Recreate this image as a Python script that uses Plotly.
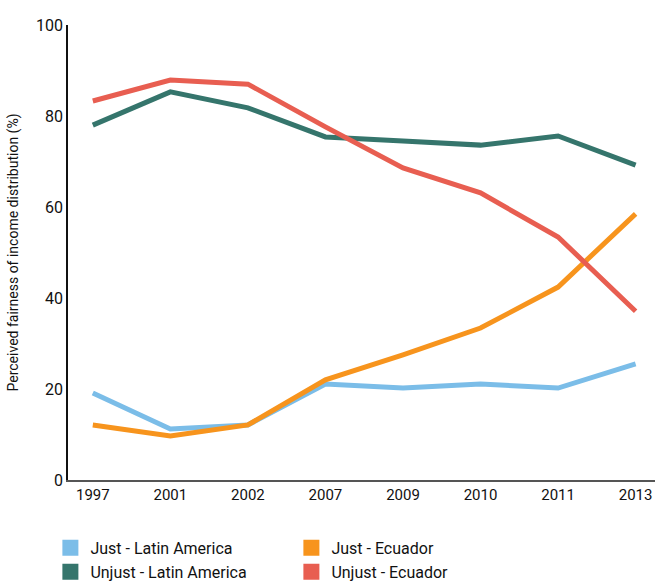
import plotly.graph_objects as go

years = ['1997', '2001', '2002', '2007', '2009', '2010', '2011', '2013']

just_latam = [19.1, 11.2, 12.1, 21.1, 20.2, 21.1, 20.2, 25.5]
just_ecuador = [12.1, 9.7, 12.1, 22.0, 27.5, 33.4, 42.4, 58.5]
unjust_latam = [78.0, 85.3, 81.8, 75.4, 74.5, 73.6, 75.6, 69.2]
unjust_ecuador = [83.3, 87.9, 87.0, 77.6, 68.6, 63.1, 53.4, 37.1]

series = [
    ('Just - Latin America', just_latam, '#7bbde8'),
    ('Just - Ecuador', just_ecuador, '#f7941d'),
    ('Unjust - Latin America', unjust_latam, '#35756c'),
    ('Unjust - Ecuador', unjust_ecuador, '#e85e51'),
]

font = 'Roboto, Arial, sans-serif'

fig = go.Figure()

# the lines themselves (legend handled by swatches below)
for name, vals, col in series:
    fig.add_trace(go.Scatter(
        x=years, y=vals, mode='lines', name=name,
        line=dict(color=col, width=5), showlegend=False
    ))

# square swatches for the legend
for name, vals, col in series:
    fig.add_trace(go.Scatter(
        x=[None], y=[None], mode='markers', name=name,
        marker=dict(color=col, symbol='square', size=17)
    ))

fig.update_layout(
    width=655, height=583,
    margin=dict(l=68, r=0, t=25, b=103, autoexpand=False),
    plot_bgcolor='white', paper_bgcolor='white',
    font=dict(family=font, size=16, color='#111'),
    showlegend=True,
    legend=dict(
        orientation='h', x=-0.03, xanchor='left', y=-0.112, yanchor='top',
        entrywidth=196, font=dict(size=16), tracegroupgap=0,
        itemclick=False
    ),
    xaxis=dict(
        type='category', range=[-0.32, 7.25], showgrid=False,
        showline=True, linecolor='#555', linewidth=2,
        ticks='', tickfont=dict(size=15), automargin=False
    ),
    yaxis=dict(
        range=[0, 100], dtick=20, showgrid=False, zeroline=False,
        showline=True, linecolor='#111', linewidth=1.5,
        ticks='', tickfont=dict(size=16), automargin=False,
        title=dict(text='Perceived fairness of income distribution (%)',
                   font=dict(size=14), standoff=14)
    ),
)

# drop the browser's default 8px body margin so the figure fills the window
fig.write_html('out.html',
               config={'displayModeBar': False},
               post_script="document.body.style.margin='0';"
                           "document.body.style.overflow='hidden';")
